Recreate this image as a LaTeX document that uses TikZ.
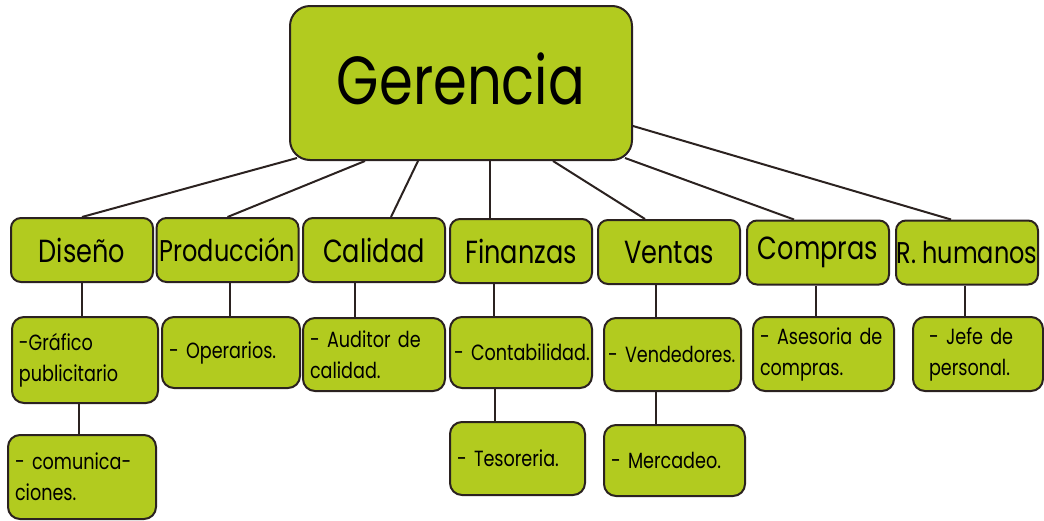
\documentclass[tikz,border=0pt]{standalone}
\usepackage{fontspec}
\setmainfont{Poppins}[FakeStretch=0.8]
\usetikzlibrary{positioning,backgrounds}
\lefthyphenmin=62
\exhyphenpenalty=10000
\definecolor{verde}{RGB}{178,203,31}
\definecolor{borde}{RGB}{43,34,32}
\tikzset{
  caja/.style={draw=borde, line width=2pt, fill=verde},
  jefe/.style={caja, rounded corners=20pt, minimum width=342pt, minimum height=154pt,
    font=\fontsize{68}{72}\selectfont},
  area/.style={caja, rounded corners=10pt, minimum width=142pt, minimum height=64pt,
    inner sep=0pt, font=\fontsize{32}{36}\selectfont},
  cargo/.style={caja, rounded corners=12pt, align=left, inner xsep=7pt, text width=#1,
    font=\fontsize{22}{31}\selectfont},
  linea/.style={draw=borde, line width=2pt}
}

\begin{document}
\begin{tikzpicture}[x=1pt,y=-1pt]
  \useasboundingbox (0,0) rectangle (1044,520);
  % cabeza
  \node[jefe] (ger) at (461,83) {\raisebox{8pt}{Gerencia}};
  % areas
  \node[area] (dis) at (82,250) {Diseño};
  \node[area, font=\fontsize{30}{36}\selectfont] (pro) at (227.5,250) {Producción};
  \node[area] (cal) at (374,250) {Calidad};
  \node[area] (fin) at (521,251) {Finanzas};
  \node[area] (ven) at (669,252) {Ventas};
  \node[area] (cmp) at (818,252.5) {Compras};
  \node[area, font=\fontsize{30}{36}\selectfont] (rhu) at (967,252.5) {R. humanos};
  % cargos
  \node[cargo=132pt, minimum height=86pt] (gra) at (85,360) {-Gráfico\\publicitario};
  \node[cargo=134pt, minimum height=84pt] (comu) at (82,477) {- comunica-\\ciones.};
  \node[cargo=124pt, minimum height=71pt] (ope) at (231,352.5) {-~Operarios.};
  \node[cargo=128pt, minimum height=73pt] (aud) at (374,354.5) {- Auditor de\\calidad.};
  \node[cargo=134pt, minimum height=71pt, inner xsep=4pt] (con) at (521,352.5) {-~Contabilidad.};
  \node[cargo=121pt, minimum height=73pt] (tes) at (517.5,458.5) {-~Tesoreria.};
  \node[cargo=129pt, minimum height=73pt, inner xsep=4pt] (vdr) at (672.5,354.5) {-~Vendedores.};
  \node[cargo=127pt, minimum height=71pt] (mer) at (674.5,460.5) {-~Mercadeo.};
  \node[cargo=127pt, minimum height=74pt] (ase) at (823.5,354) {- Asesoria de\\compras.};
  \node[cargo=114pt, minimum height=74pt, inner xsep=16pt, text width=98pt] (jef) at (978,354) {- Jefe de\\personal.};
  % conectores
  \begin{scope}[on background layer]
    \draw[linea] ([xshift=-164pt,yshift=3pt]ger.south) -- (dis.north);
    \draw[linea] ([xshift=-96pt]ger.south) -- (pro.north);
    \draw[linea] ([xshift=-43pt]ger.south) -- ([xshift=17pt]cal.north);
    \draw[linea] ([xshift=29pt]ger.south) -- ([xshift=-31pt]fin.north);
    \draw[linea] ([xshift=92pt]ger.south) -- ([xshift=-24pt]ven.north);
    \draw[linea] ([xshift=164pt,yshift=3pt]ger.south) -- ([xshift=-24pt]cmp.north);
    \draw[linea] ([yshift=-43pt]ger.east) -- ([xshift=-16pt]rhu.north);
    \draw[linea] (dis.south) -- (dis.south |- gra.north);
    \draw[linea] ([xshift=-3pt]comu.north) -- ([xshift=-3pt]comu.north |- gra.south);
    \draw[linea] ([xshift=2pt]pro.south) -- ([xshift=2pt]pro.south |- ope.north);
    \draw[linea] ([xshift=-19pt]cal.south) -- ([xshift=-19pt]cal.south |- aud.north);
    \draw[linea] ([xshift=-27pt]fin.south) -- ([xshift=-27pt]fin.south |- con.north);
    \draw[linea] ([xshift=-22.5pt]tes.north) -- ([xshift=-22.5pt]tes.north |- con.south);
    \draw[linea] ([xshift=-13pt]ven.south) -- ([xshift=-13pt]ven.south |- vdr.north);
    \draw[linea] ([xshift=-18.5pt]mer.north) -- ([xshift=-18.5pt]mer.north |- vdr.south);
    \draw[linea] ([xshift=-2pt]cmp.south) -- ([xshift=-2pt]cmp.south |- ase.north);
    \draw[linea] ([xshift=-2pt]rhu.south) -- ([xshift=-2pt]rhu.south |- jef.north);
  \end{scope}
\end{tikzpicture}
\end{document}
